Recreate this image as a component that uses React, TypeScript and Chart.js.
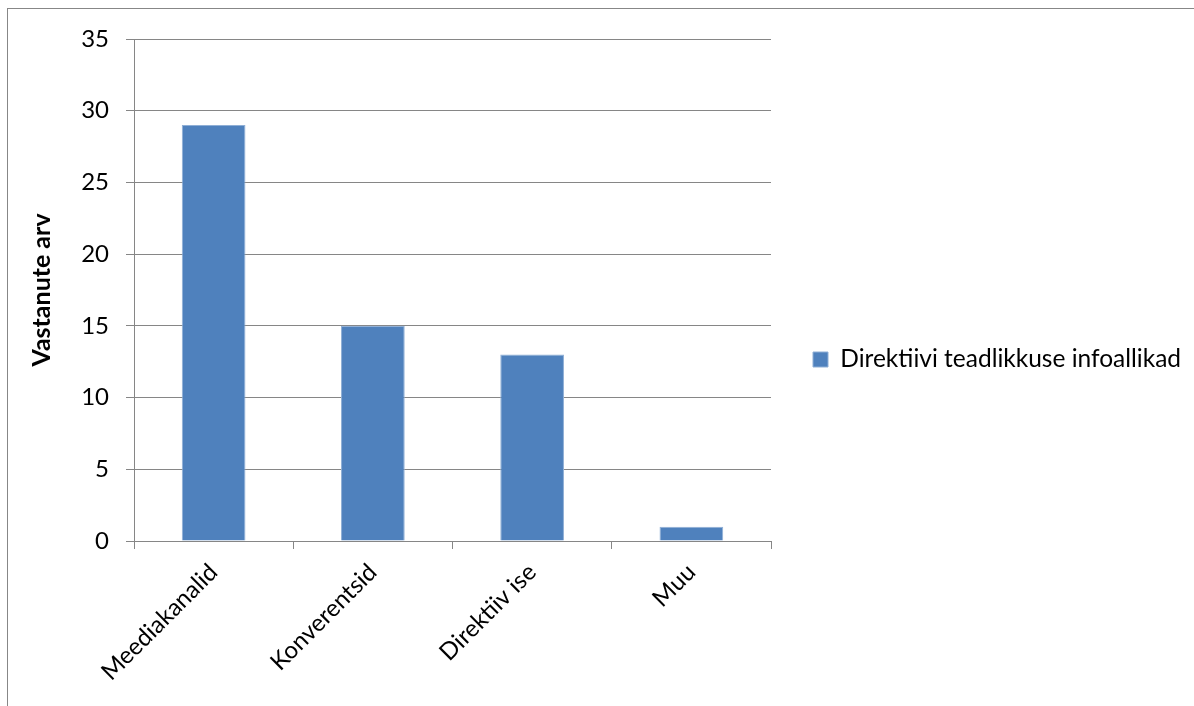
import React, { useEffect, useRef } from "react";
import { Chart, registerables } from "chart.js";

Chart.register(...registerables);

const categories = ["Meediakanalid", "Konverentsid", "Direktiiv ise", "Muu"];
const values = [29, 15, 13, 1];
const seriesLabel = "Direktiivi teadlikkuse infoallikad";
const yTitle = "Vastanute arv";
const yMin = 0;
const yMax = 35;
const yStep = 5;

const W = 1194;
const H = 706;
const FONT = "Lato";
const GRID = "#868686";
const PLOT_LEFT = 134;
const PLOT_RIGHT = 771;
const PLOT_BOTTOM = 541;

// let the right-hand legend be as wide as its text (Chart.js caps side boxes at 1/4 of the width)
const wideLegend = {
  id: "wideLegend",
  beforeLayout(chart: any) {
    const lg = chart.legend;
    if (lg && !lg.__wide) {
      const orig = lg.update.bind(lg);
      lg.update = (mw: number, mh: number, m: any) => orig(Math.max(mw, 600), mh, m);
      lg.__wide = true;
    }
  },
};

export default function App() {
  const ref = useRef<HTMLCanvasElement | null>(null);
  useEffect(() => {
    if (!ref.current) return;
    const padTop = 39;
    const padBottom = 26;
    const chart = new Chart(ref.current, {
      type: "bar",
      data: {
        labels: categories,
        datasets: [
          {
            label: seriesLabel,
            data: values,
            backgroundColor: "#4F81BD",
            borderColor: "#8FAFD6",
            borderWidth: 1,
            barPercentage: 0.4,
            categoryPercentage: 1,
          },
        ],
      },
      plugins: [wideLegend],
      options: {
        responsive: false,
        animation: false,
        layout: { padding: { top: padTop, bottom: padBottom, left: 0, right: 10 } },
        plugins: {
          tooltip: { enabled: false },
          legend: {
            position: "right",
            labels: {
              boxWidth: 15,
              boxHeight: 15,
              padding: 42,
              color: "#000",
              font: { family: FONT, size: 24.5 },
            },
          },
        },
        scales: {
          x: {
            afterFit: (s: any) => {
              s.height = H - padBottom - PLOT_BOTTOM;
            },
            grid: {
              display: true,
              drawOnChartArea: false,
              drawTicks: true,
              tickLength: 8,
              offset: true,
              color: GRID,
            },
            border: { display: true, color: GRID },
            ticks: {
              minRotation: 45,
              maxRotation: 45,
              autoSkip: false,
              color: "#000",
              padding: 9,
              font: { family: FONT, size: 24 },
            },
          },
          y: {
            min: yMin,
            max: yMax,
            afterFit: (s: any) => {
              s.width = PLOT_LEFT;
            },
            ticks: {
              stepSize: yStep,
              color: "#000",
              padding: 17,
              font: { family: FONT, size: 24 },
            },
            grid: { color: GRID, tickLength: 8, drawTicks: true },
            border: { display: true, color: GRID },
            title: {
              display: true,
              text: yTitle,
              color: "#000",
              font: { family: FONT, size: 25, weight: "bold" },
              padding: { top: 27, bottom: 0 },
            },
          },
        },
      },
    });
    // shift the right padding so the plot area ends where the reference's does
    const diff = chart.chartArea.right - PLOT_RIGHT;
    if (Math.abs(diff) > 0.5) {
      (chart.options.layout as any).padding.right = 10 + diff;
      chart.update();
    }
    return () => chart.destroy();
  }, []);
  return (
    <div style={{ position: "fixed", left: 0, top: 0, width: W, height: H, overflow: "hidden", background: "#fff" }}>
      <div
        style={{
          position: "absolute",
          left: 7,
          top: 8,
          width: W + 50,
          height: H + 50,
          borderLeft: "1px solid #878787",
          borderTop: "1px solid #878787",
        }}
      />
      <canvas ref={ref} width={W} height={H} style={{ position: "absolute", left: 0, top: 0 }} />
    </div>
  );
}
